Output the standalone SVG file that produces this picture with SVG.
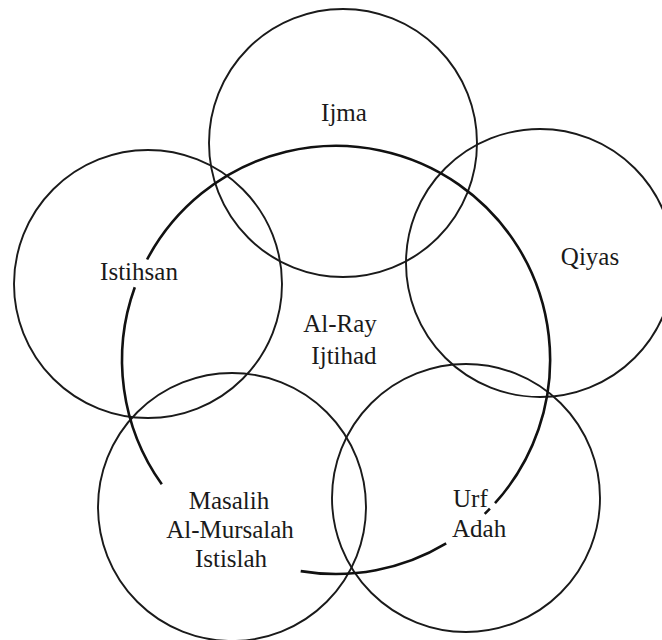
<svg xmlns="http://www.w3.org/2000/svg" width="662" height="640" viewBox="0 0 662 640">
<style>
.c{fill:none;stroke:#1a1a1a;stroke-width:1.9}
.big{fill:none;stroke:#111;stroke-width:2.6;stroke-linecap:butt}
.t{font-family:"Liberation Serif","Times New Roman",serif;font-size:25px;fill:#1a1a1a;text-anchor:middle}
.s{text-anchor:start}
</style>
<rect width="662" height="640" fill="#fff"/>
<g id="ijma"><circle class="c" cx="343" cy="143" r="134"/><text class="t" x="344" y="121">Ijma</text></g>
<g id="qiyas"><circle class="c" cx="540" cy="263" r="134"/><text class="t" x="590" y="265">Qiyas</text></g>
<g id="istihsan"><circle class="c" cx="148" cy="284" r="134"/><text class="t" x="139" y="280">Istihsan</text></g>
<g id="masalih"><circle class="c" cx="232" cy="507" r="134"/><text class="t" x="229" y="509">Masalih</text><text class="t" x="230" y="538">Al-Mursalah</text><text class="t" x="231" y="567">Istislah</text></g>
<g id="urf"><circle class="c" cx="466" cy="498" r="134"/><text class="t s" x="453" y="507">Urf</text><text class="t s" x="452" y="537">Adah</text></g>
<g id="alray">
<path class="big" d="M161.8,484.3 A214,214 0 0 1 134.8,287.2"/>
<path class="big" d="M147.1,259.5 A214,214 0 1 1 495,503.2"/>
<path class="big" d="M489.9,508.7 A214,214 0 0 1 484.7,513.9"/>
<path class="big" d="M446.2,543.4 A214,214 0 0 1 300.7,571.1"/>
<text class="t" x="340" y="332">Al-Ray</text><text class="t" x="344" y="364">Ijtihad</text>
</g>
</svg>
